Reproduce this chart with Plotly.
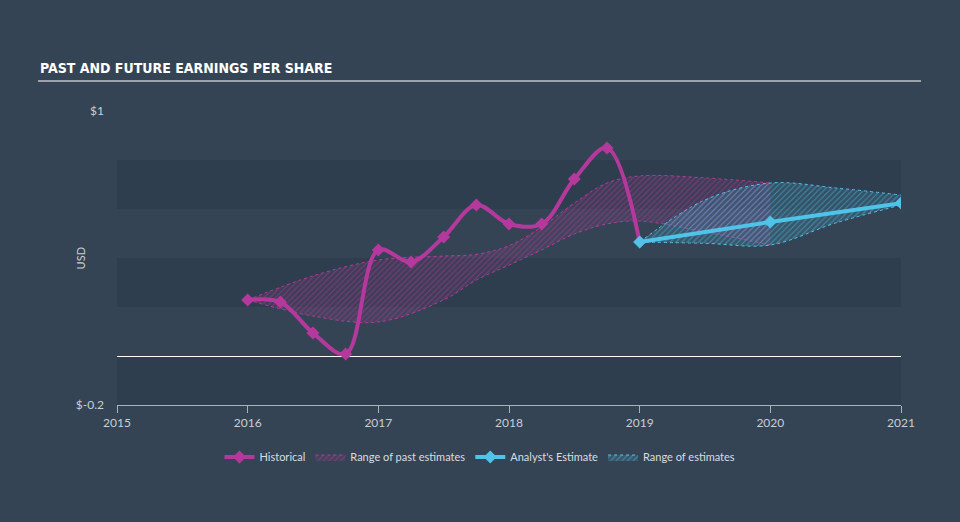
import plotly.graph_objects as go

# ---- data ----
hist_x = [2016.0, 2016.25, 2016.5, 2016.75, 2017.0, 2017.25, 2017.5, 2017.75,
          2018.0, 2018.25, 2018.5, 2018.75, 2019.0]
hist_y = [0.229, 0.22, 0.094, 0.008, 0.433, 0.384, 0.486, 0.616,
          0.539, 0.539, 0.722, 0.849, 0.465]

est_x = [2019.0, 2020.0, 2021.0]
est_y = [0.465, 0.547, 0.624]

past_x = [2016.0, 2016.5, 2017.0, 2017.5, 2017.75, 2018.0, 2018.25, 2018.5, 2018.75, 2019.0, 2019.5, 2020.0]
past_hi = [0.229, 0.327, 0.392, 0.408, 0.415, 0.45, 0.527, 0.624, 0.706, 0.735, 0.727, 0.706]
past_lo = [0.229, 0.163, 0.139, 0.229, 0.31, 0.371, 0.433, 0.498, 0.539, 0.551, 0.506, 0.453]

fut_x = [2019.0, 2019.5, 2020.0, 2020.5, 2021.0]
fut_hi = [0.465, 0.637, 0.706, 0.686, 0.657]
fut_lo = [0.465, 0.46, 0.453, 0.543, 0.616]

year_ticks = [2015, 2016, 2017, 2018, 2019, 2020, 2021]
y_ticks = [1.0, -0.2]
y_ticktext = ["$1", "$-0.2"]
stripes = [(0.6, 0.8), (0.2, 0.4), (-0.2, 0.0)]

PINK = "#b5399c"
BLUE = "#4fc3e8"
BG = "#344455"
TXT = "#c9ced4"

fig = go.Figure()

# past estimate band
fig.add_trace(go.Scatter(x=past_x, y=past_lo, mode="lines", line=dict(color=PINK, width=1, dash="dot", shape="spline"),
                         showlegend=False, hoverinfo="skip"))
fig.add_trace(go.Scatter(x=past_x, y=past_hi, mode="lines", line=dict(color=PINK, width=1, dash="dot", shape="spline"),
                         fill="tonexty", fillcolor="rgba(181,57,156,0.12)",
                         fillpattern=dict(shape="/", fgcolor=PINK, bgcolor="rgba(181,57,156,0.12)", size=4, solidity=0.25),
                         name="Range of past estimates", legendrank=2))
# future estimate band
fig.add_trace(go.Scatter(x=fut_x, y=fut_lo, mode="lines", line=dict(color=BLUE, width=1, dash="dot", shape="spline"),
                         showlegend=False, hoverinfo="skip"))
fig.add_trace(go.Scatter(x=fut_x, y=fut_hi, mode="lines", line=dict(color=BLUE, width=1, dash="dot", shape="spline"),
                         fill="tonexty", fillcolor="rgba(79,195,232,0.15)",
                         fillpattern=dict(shape="/", fgcolor=BLUE, bgcolor="rgba(79,195,232,0.15)", size=4, solidity=0.25),
                         name="Range of estimates", legendrank=4))

fig.add_trace(go.Scatter(x=hist_x, y=hist_y, mode="lines+markers", name="Historical",
                         line=dict(color=PINK, width=4, shape="spline"),
                         marker=dict(symbol="diamond", size=10, color=PINK), legendrank=1))
fig.add_trace(go.Scatter(x=est_x, y=est_y, mode="lines+markers", name="Analyst's Estimate",
                         line=dict(color=BLUE, width=4),
                         marker=dict(symbol="diamond", size=10, color=BLUE), legendrank=3))

shapes = []
for y0, y1 in stripes:
    shapes.append(dict(type="rect", xref="x", yref="y", x0=2015, x1=2021, y0=y0, y1=y1,
                       fillcolor="rgba(20,30,40,0.14)", line=dict(width=0), layer="below"))
# title underline
shapes.append(dict(type="line", xref="paper", yref="paper", x0=-0.1008, x1=1.0255, y0=1.102, y1=1.102,
                   line=dict(color="#9aa3ab", width=2)))

fig.update_layout(
    width=960, height=522,
    margin=dict(l=117, r=59, t=111, b=117),
    paper_bgcolor=BG, plot_bgcolor=BG,
    font=dict(family="Lato, sans-serif", color=TXT, size=12),
    shapes=shapes,
    showlegend=True,
    legend=dict(orientation="h", xref="container", yref="container", x=0.5, xanchor="center",
                y=0.1245, yanchor="middle", font=dict(size=11, color="#d8dce0"),
                bgcolor="rgba(0,0,0,0)", itemwidth=30, traceorder="normal"),
    annotations=[
        dict(text="<b>PAST AND FUTURE EARNINGS PER SHARE</b>", xref="paper", yref="paper",
             x=-0.1008, y=1.146, xanchor="left", yanchor="middle", showarrow=False,
             font=dict(family="Liberation Sans Narrow, DejaVu Sans Condensed, sans-serif", size=14, color="#ffffff")),
        dict(text="USD", xref="paper", yref="paper", x=-0.0575, y=0.5, textangle=-90,
             showarrow=False, font=dict(size=11, color=TXT)),
    ],
)
fig.update_xaxes(range=[2015, 2021], tickvals=year_ticks, ticktext=[str(t) for t in year_ticks],
                 showgrid=False, zeroline=False, showline=True, linecolor="#aab2ba", linewidth=1,
                 ticks="outside", ticklen=7, tickcolor="#aab2ba", tickfont=dict(size=12, color=TXT))
fig.update_yaxes(range=[-0.2, 1.0], tickvals=y_ticks, ticktext=y_ticktext, showgrid=False,
                 zeroline=True, zerolinecolor="#ffffff", zerolinewidth=1, showline=False,
                 ticks="", ticklabelstandoff=12, tickfont=dict(size=12, color=TXT))

fig.write_html("out.html")
